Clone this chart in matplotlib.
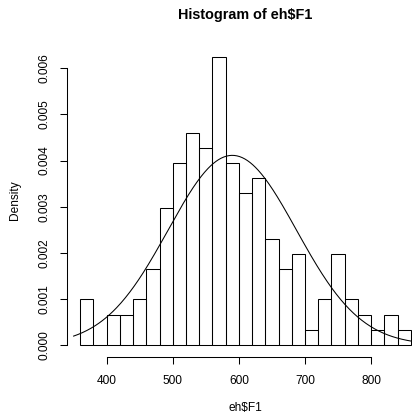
import numpy as np
import matplotlib
matplotlib.use("Agg")
import matplotlib.pyplot as plt

# histogram of eh$F1: 20-wide bins from 360 to 860, counts
BREAKS = list(range(360, 861, 20))
COUNTS = [3, 0, 2, 2, 3, 5, 9, 12, 14, 13, 19, 12, 10, 11, 7, 5, 6, 1, 3, 6, 3, 2, 1, 2, 1]
# normal curve overlaid (mean / sd)
CURVE_MEAN = 590
CURVE_SD = 97
CURVE_FROM, CURVE_TO = 350, 880
X_TICKS = [400, 500, 600, 700, 800]
Y_TICKS = [0.000, 0.001, 0.002, 0.003, 0.004, 0.005, 0.006]

plt.rcParams["font.family"] = ["Liberation Sans", "DejaVu Sans"]

W, H = 412, 415
fig = plt.figure(figsize=(W / 100, H / 100), dpi=100)
# plot region in pixels (R-style margins; right side runs past the image edge)
left, right, top, bottom = 67, 424, 45.3, 356.5
ax = fig.add_axes([left / W, 1 - bottom / H, (right - left) / W, (bottom - top) / H])

edges = np.array(BREAKS, dtype=float)
width = np.diff(edges)
density = np.array(COUNTS) / (sum(COUNTS) * width)
ax.bar(edges[:-1], density, width=width, align="edge", fill=False,
       edgecolor="black", linewidth=0.75)

xs = np.linspace(CURVE_FROM, CURVE_TO, 400)
ys = np.exp(-0.5 * ((xs - CURVE_MEAN) / CURVE_SD) ** 2) / (CURVE_SD * np.sqrt(2 * np.pi))
ax.plot(xs, ys, color="black", linewidth=0.75)

ax.set_xlim(340, 880)
ax.set_ylim(-0.00025, 0.0065)
for s in ("top", "right"):
    ax.spines[s].set_visible(False)
ax.spines["left"].set_bounds(Y_TICKS[0], Y_TICKS[-1])
ax.spines["bottom"].set_bounds(X_TICKS[0], X_TICKS[-1])
for s in ("left", "bottom"):
    ax.spines[s].set_linewidth(0.75)

ax.set_xticks(X_TICKS)
ax.set_xticklabels([str(v) for v in X_TICKS])
ax.set_yticks(Y_TICKS)
ax.set_yticklabels([f"{v:.3f}" for v in Y_TICKS], rotation=90, va="center")
ax.tick_params(length=5, width=0.75, labelsize=8.6, pad=8)
ax.tick_params(axis="y", pad=7)

fig.text(245.5 / W, 1 - 15 / H, "Histogram of eh\\$F1", ha="center", va="center",
         fontsize=10.4, fontweight="bold")
fig.text(245.5 / W, 1 - 408 / H, "eh\\$F1", ha="center", va="center", fontsize=8.6)
fig.text(15 / W, 1 - 200 / H, "Density", ha="center", va="center", rotation=90,
         fontsize=8.6)

fig.savefig("out.png", dpi=100)
